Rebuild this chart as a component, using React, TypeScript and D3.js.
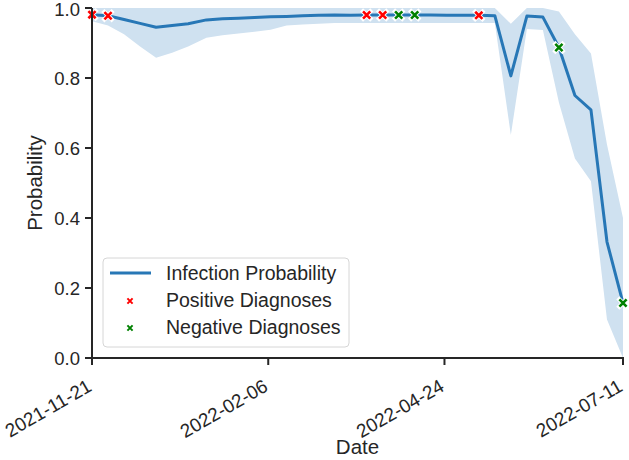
import React from 'react';
import * as d3 from 'd3';

// weekly estimates
const dates = [
  '2021-11-21', '2021-11-28', '2021-12-05', '2021-12-12', '2021-12-19', '2021-12-26',
  '2022-01-02', '2022-01-10', '2022-01-17', '2022-01-24', '2022-01-31', '2022-02-07',
  '2022-02-14', '2022-02-21', '2022-02-28', '2022-03-07', '2022-03-14', '2022-03-21',
  '2022-03-28', '2022-04-04', '2022-04-11', '2022-04-18', '2022-04-25', '2022-05-02',
  '2022-05-09', '2022-05-16', '2022-05-23', '2022-05-30', '2022-06-06', '2022-06-13',
  '2022-06-20', '2022-06-27', '2022-07-04', '2022-07-11',
];

const probability = [
  0.981, 0.978, 0.967, 0.956, 0.945, 0.950,
  0.955, 0.966, 0.969, 0.971, 0.973, 0.975,
  0.976, 0.978, 0.979, 0.980, 0.979, 0.980,
  0.980, 0.980, 0.980, 0.980, 0.979, 0.979,
  0.979, 0.978, 0.806, 0.977, 0.974, 0.887,
  0.750, 0.709, 0.332, 0.157,
];

const lower = [
  0.962, 0.950, 0.925, 0.890, 0.858, 0.872,
  0.890, 0.915, 0.922, 0.927, 0.932, 0.938,
  0.950, 0.953, 0.955, 0.957, 0.957, 0.957,
  0.957, 0.957, 0.957, 0.957, 0.957, 0.957,
  0.957, 0.957, 0.637, 0.940, 0.937, 0.730,
  0.570, 0.505, 0.110, 0.0,
];

const upper = [
  1.0, 1.0, 1.0, 1.0, 1.0, 1.0,
  1.0, 1.0, 1.0, 1.0, 1.0, 1.0,
  1.0, 1.0, 1.0, 1.0, 1.0, 1.0,
  1.0, 1.0, 1.0, 1.0, 1.0, 1.0,
  1.0, 1.0, 0.955, 1.0, 1.0, 0.99,
  0.925, 0.87, 0.61, 0.40,
];

const positiveDates = ['2021-11-21', '2021-11-28', '2022-03-21', '2022-03-28', '2022-05-09'];
const negativeDates = ['2022-04-04', '2022-04-11', '2022-06-13', '2022-07-11'];

const xTickLabels = ['2021-11-21', '2022-02-06', '2022-04-24', '2022-07-11'];
const yTickValues = [0, 0.2, 0.4, 0.6, 0.8, 1.0];

const W = 629;
const H = 460;
const FONT = '"Liberation Sans", Arial, Helvetica, sans-serif';
const AXIS = '#262626';
const BLUE = '#2777b6';
const BAND = '#cfe1f0';

const parse = d3.timeParse('%Y-%m-%d');

const XMark: React.FC<{ x: number; y: number; r: number; color: string; w: number }> = ({ x, y, r, color, w }) => {
  const d = `M${x - r},${y - r}L${x + r},${y + r}M${x - r},${y + r}L${x + r},${y - r}`;
  return (
    <g>
      <path d={d} stroke="#fff" strokeWidth={w + 1.8} strokeLinecap="square" fill="none" />
      <path d={d} stroke={color} strokeWidth={w} strokeLinecap="butt" fill="none" />
    </g>
  );
};

const App: React.FC = () => {
  const pts = dates.map((s, i) => ({
    t: parse(s) as Date,
    p: probability[i],
    lo: lower[i],
    hi: upper[i],
  }));

  const x = d3.scaleTime()
    .domain([pts[0].t, pts[pts.length - 1].t])
    .range([92, 623]);
  const y = d3.scaleLinear().domain([0, 1]).range([358, 8]);

  const line = d3.line<typeof pts[0]>().x(d => x(d.t)).y(d => y(d.p));
  const area = d3.area<typeof pts[0]>().x(d => x(d.t)).y0(d => y(d.lo)).y1(d => y(d.hi));

  const valueAt = (s: string) => probability[dates.indexOf(s)];

  const [x0, x1] = x.range();
  const [y0, y1] = y.range();

  return (
    <div style={{ position: 'absolute', left: 0, top: 0 }}>
      <svg width={W} height={H} style={{ display: 'block', background: '#fff' }} fontFamily={FONT}>
        <path d={area(pts) || ''} fill={BAND} />
        <path d={line(pts) || ''} fill="none" stroke={BLUE} strokeWidth={3} strokeLinejoin="round" />

        {positiveDates.map(s => (
          <XMark key={'p' + s} x={x(parse(s) as Date)} y={y(valueAt(s))} r={3.6} color="#ff0000" w={2.6} />
        ))}
        {negativeDates.map(s => (
          <XMark key={'n' + s} x={x(parse(s) as Date)} y={y(valueAt(s))} r={3.6} color="#008000" w={2.6} />
        ))}

        {/* y axis */}
        <line x1={x0} x2={x0} y1={y0 + 1} y2={y1} stroke={AXIS} strokeWidth={2} />
        {yTickValues.map(v => (
          <g key={v}>
            <line x1={x0 - 7} x2={x0} y1={y(v)} y2={y(v)} stroke={AXIS} strokeWidth={2} />
            <text x={x0 - 12} y={y(v)} dy={v === 1 ? '0.44em' : '0.36em'} textAnchor="end" fontSize={18.5} fill={AXIS}>
              {v.toFixed(1)}
            </text>
          </g>
        ))}
        <text transform={`translate(42,${(y0 + y1) / 2}) rotate(-90)`} textAnchor="middle" fontSize={20.5} fill={AXIS}>
          Probability
        </text>

        {/* x axis */}
        <line x1={x0 - 1} x2={x1 + 1} y1={y0} y2={y0} stroke={AXIS} strokeWidth={2} />
        {xTickLabels.map(s => {
          const tx = x(parse(s) as Date);
          return (
            <g key={s}>
              <line x1={tx} x2={tx} y1={y0} y2={y0 + 7} stroke={AXIS} strokeWidth={2} />
              <text transform={`translate(${tx + 1},${y0 + 32}) rotate(-30)`} textAnchor="end" fontSize={19} fill={AXIS}>
                {s}
              </text>
            </g>
          );
        })}
        <text x={(x0 + x1) / 2} y={454} textAnchor="middle" fontSize={20.5} fill={AXIS}>
          Date
        </text>

        {/* legend */}
        <rect x={103} y={258} width={246} height={89} rx={4} fill="#fff" fillOpacity={0.85} stroke="#d6d6d6" strokeWidth={1} />
        <line x1={110} x2={151} y1={273} y2={273} stroke={BLUE} strokeWidth={3} />
        <text x={166} y={280} fontSize={19.5} fill={AXIS}>Infection Probability</text>
        <XMark x={130} y={301} r={2.6} color="#ff0000" w={2} />
        <text x={166} y={307} fontSize={19.5} fill={AXIS}>Positive Diagnoses</text>
        <XMark x={130} y={328} r={2.6} color="#008000" w={2} />
        <text x={166} y={334} fontSize={19.5} fill={AXIS}>Negative Diagnoses</text>
      </svg>
    </div>
  );
};

export default App;
